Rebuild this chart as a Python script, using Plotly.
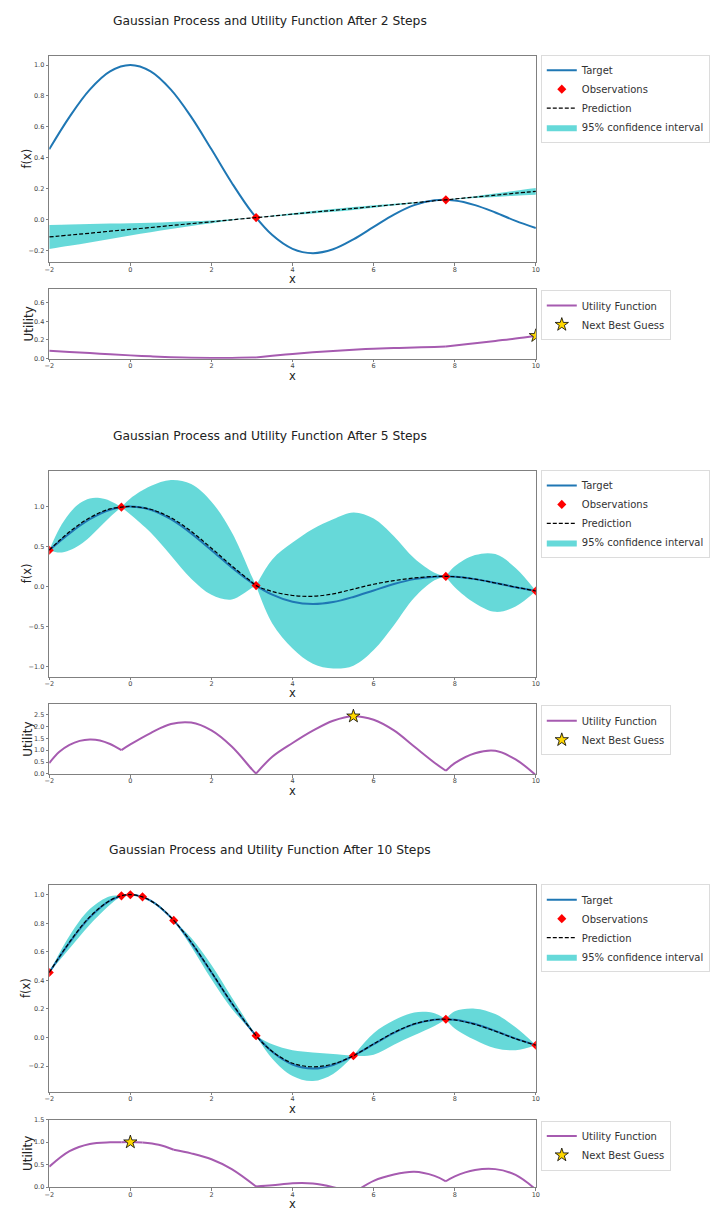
import plotly.graph_objects as go

W, H = 710, 1211
FONT = "DejaVu Sans"

TARGET_COLOR = "#1f77b4"
OBS_COLOR = "#ff0000"
BAND_COLOR = "rgba(0,191,191,0.6)"
UTIL_COLOR = "#a65bb0"
FRAME = "#808080"

# ---------------- data ----------------
x_ticks = [-2, 0, 2, 4, 6, 8, 10]

# target function samples (same curve in every panel)
target_x = [-2.0, -1.5, -1.0, -0.5, 0.0, 0.5, 1.0, 1.5, 2.0, 2.5, 3.0, 3.5, 4.0,
            4.5, 5.0, 5.5, 6.0, 6.5, 7.0, 7.5, 8.0, 8.5, 9.0, 9.5, 10.0]
target_y = [0.455, 0.665, 0.841, 0.959, 1.000, 0.959, 0.841, 0.665, 0.455, 0.239,
            0.047, -0.100, -0.189, -0.217, -0.192, -0.128, -0.047, 0.033, 0.094,
            0.125, 0.124, 0.094, 0.046, -0.008, -0.054]

# after 2 steps
p1_x = [-2.0, -1.5, -1.0, -0.5, 0.0, 0.5, 1.0, 1.5, 2.0, 2.5, 3.0, 3.1, 3.5, 4.0,
        4.5, 5.0, 5.5, 6.0, 6.5, 7.0, 7.5, 7.78, 8.0, 8.5, 9.0, 9.5, 10.0]
p1_pred = [-0.112, -0.100, -0.088, -0.075, -0.063, -0.051, -0.038, -0.026, -0.014,
           -0.001, 0.011, 0.013, 0.023, 0.036, 0.048, 0.060, 0.072, 0.085, 0.097,
           0.109, 0.122, 0.128, 0.134, 0.146, 0.158, 0.171, 0.183]
p1_ci = [0.078, 0.069, 0.060, 0.050, 0.040, 0.031, 0.023, 0.015, 0.009, 0.004,
         0.001, 0.0, 0.003, 0.006, 0.008, 0.009, 0.009, 0.008, 0.006, 0.004,
         0.001, 0.0, 0.002, 0.006, 0.011, 0.016, 0.022]
p1_util = [0.085, 0.072, 0.060, 0.047, 0.035, 0.025, 0.016, 0.010, 0.007, 0.008,
           0.012, 0.013, 0.030, 0.050, 0.068, 0.083, 0.096, 0.106, 0.113, 0.120,
           0.126, 0.130, 0.140, 0.165, 0.190, 0.215, 0.245]
p1_obs_x = [3.1, 7.78]
p1_obs_y = [0.013, 0.128]
p1_next = (10.0, 0.245)

# after 5 steps
p2_x = [-2.0, -1.75, -1.5, -1.25, -1.0, -0.75, -0.5, -0.22, 0.0, 0.5, 1.0, 1.5,
        2.0, 2.5, 3.0, 3.1, 3.5, 4.0, 4.5, 5.0, 5.5, 6.0, 6.5, 7.0, 7.5, 7.78,
        8.0, 8.5, 9.0, 9.5, 10.0]
p2_pred = [0.455, 0.575, 0.685, 0.780, 0.860, 0.925, 0.970, 0.992, 1.000, 0.965,
           0.860, 0.690, 0.480, 0.260, 0.055, 0.013, -0.060, -0.110, -0.120,
           -0.090, -0.030, 0.030, 0.075, 0.108, 0.127, 0.128, 0.124, 0.094,
           0.046, -0.006, -0.054]
p2_ci = [0.0, 0.15, 0.23, 0.26, 0.24, 0.18, 0.10, 0.0, 0.10, 0.29, 0.47, 0.59,
         0.58, 0.42, 0.07, 0.0, 0.40, 0.66, 0.84, 0.93, 0.955, 0.82, 0.555, 0.247,
         0.048, 0.0, 0.13, 0.30, 0.36, 0.24, 0.0]
p2_util = [0.455, 0.93, 1.22, 1.39, 1.45, 1.41, 1.26, 1.00, 1.24, 1.72, 2.10,
           2.16, 1.83, 1.15, 0.19, 0.013, 0.72, 1.30, 1.82, 2.24, 2.43, 2.28,
           1.83, 1.15, 0.47, 0.13, 0.45, 0.87, 0.97, 0.61, -0.054]
p2_obs_x = [-2.0, -0.22, 3.1, 7.78, 10.0]
p2_obs_y = [0.455, 0.992, 0.013, 0.128, -0.054]
p2_next = (5.5, 2.43)

# after 10 steps
p3_x = [-2.0, -1.5, -1.0, -0.5, -0.22, 0.0, 0.3, 0.7, 1.07, 1.5, 2.0, 2.5, 3.1,
        3.5, 4.0, 4.5, 5.0, 5.5, 6.0, 6.5, 7.0, 7.5, 7.78, 8.0, 8.5, 9.0, 9.5,
        10.0]
p3_pred = [0.455, 0.668, 0.845, 0.960, 0.992, 1.000, 0.985, 0.920, 0.820, 0.668,
           0.458, 0.242, 0.013, -0.098, -0.180, -0.205, -0.185, -0.128, -0.045,
           0.035, 0.095, 0.125, 0.128, 0.123, 0.092, 0.044, -0.009, -0.054]
p3_ci = [0.0, 0.045, 0.055, 0.03, 0.0, 0.0, 0.0, 0.008, 0.0, 0.03, 0.05, 0.04,
         0.0, 0.05, 0.09, 0.10, 0.07, 0.0, 0.075, 0.085, 0.08, 0.045, 0.0, 0.06,
         0.11, 0.12, 0.08, 0.0]
p3_util = [0.455, 0.80, 0.96, 0.995, 0.995, 1.000, 0.99, 0.94, 0.83, 0.75, 0.62,
           0.40, 0.013, 0.04, 0.085, 0.08, 0.0, -0.128, 0.14, 0.28, 0.34, 0.25,
           0.13, 0.24, 0.38, 0.40, 0.27, -0.054]
p3_obs_x = [-2.0, -0.22, 0.0, 0.3, 1.07, 3.1, 5.5, 7.78, 10.0]
p3_obs_y = [0.455, 0.992, 1.000, 0.985, 0.820, 0.013, -0.128, 0.128, -0.054]
p3_next = (0.0, 1.0)

panels = [
    dict(title="Gaussian Process and Utility Function After 2 Steps",
         x=p1_x, pred=p1_pred, ci=p1_ci, util=p1_util,
         obs_x=p1_obs_x, obs_y=p1_obs_y, nxt=p1_next,
         title_y=17, main=(52, 260), sub=(287, 357),
         yr=[-0.276, 1.061], yt=[-0.2, 0.0, 0.2, 0.4, 0.6, 0.8, 1.0],
         ur=[0, 0.745], ut=[0.0, 0.2, 0.4, 0.6]),
    dict(title="Gaussian Process and Utility Function After 5 Steps",
         x=p2_x, pred=p2_pred, ci=p2_ci, util=p2_util,
         obs_x=p2_obs_x, obs_y=p2_obs_y, nxt=p2_next,
         title_y=435, main=(470, 677), sub=(705, 775),
         yr=[-1.121, 1.444], yt=[-1.0, -0.5, 0.0, 0.5, 1.0],
         ur=[0, 2.93], ut=[0.0, 0.5, 1.0, 1.5, 2.0, 2.5]),
    dict(title="Gaussian Process and Utility Function After 10 Steps",
         x=p3_x, pred=p3_pred, ci=p3_ci, util=p3_util,
         obs_x=p3_obs_x, obs_y=p3_obs_y, nxt=p3_next,
         title_y=852, main=(887, 1095), sub=(1123, 1191),
         yr=[-0.38, 1.067], yt=[-0.2, 0.0, 0.2, 0.4, 0.6, 0.8, 1.0],
         ur=[0, 1.5], ut=[0.0, 0.5, 1.0, 1.5]),
]

X0, X1 = 45, 540          # plot area left/right edges in pixels
LEG_X = 545


def fy(px):
    return 1 - px / H


def segments(xs, cuts):
    """Index runs of xs between consecutive cut positions (observations)."""
    bounds = sorted(set([xs[0], xs[-1]] + [c for c in cuts if xs[0] <= c <= xs[-1]]))
    runs = []
    for a, b in zip(bounds[:-1], bounds[1:]):
        idx = [i for i, v in enumerate(xs) if a - 1e-9 <= v <= b + 1e-9]
        if len(idx) >= 2:
            runs.append(idx)
    return runs


def axis_common():
    return dict(showline=True, mirror=True, linecolor=FRAME, linewidth=1.3,
                ticks="outside", ticklen=2.5, tickwidth=1, tickcolor=FRAME,
                tickfont=dict(family=FONT, size=6.5, color="#444"),
                showgrid=False, zeroline=False, fixedrange=True)


def legend_cfg(top_px):
    return dict(x=LEG_X / W, y=fy(top_px), xanchor="left", yanchor="top",
                bgcolor="white", bordercolor="#dcdcdc", borderwidth=1,
                font=dict(family=FONT, size=10, color="#333"),
                itemwidth=30, tracegroupgap=0, traceorder="normal")


fig = go.Figure()
layout = dict(width=W, height=H, margin=dict(l=0, r=0, t=0, b=0),
              paper_bgcolor="white", plot_bgcolor="white",
              font=dict(family=FONT), annotations=[])

for k, p in enumerate(panels):
    im, iu = 2 * k + 1, 2 * k + 2
    xm, ym = ("x", "y") if im == 1 else (f"x{im}", f"y{im}")
    xu, yu = f"x{iu}", f"y{iu}"
    lm = "legend" if im == 1 else f"legend{im}"
    lu = f"legend{iu}"

    # confidence band, one piece between each pair of observations
    for n, idx in enumerate(segments(p["x"], p["obs_x"])):
        xs = [p["x"][i] for i in idx]
        lo = [p["pred"][i] - p["ci"][i] for i in idx]
        hi = [p["pred"][i] + p["ci"][i] for i in idx]
        fig.add_trace(go.Scatter(x=xs, y=lo, mode="lines",
                                 line=dict(width=0, shape="spline"),
                                 hoverinfo="skip", showlegend=False,
                                 xaxis=xm, yaxis=ym))
        fig.add_trace(go.Scatter(x=xs, y=hi, mode="lines",
                                 line=dict(width=0, shape="spline"),
                                 fill="tonexty", fillcolor=BAND_COLOR,
                                 name="95% confidence interval",
                                 showlegend=(n == 0), legend=lm, legendrank=4,
                                 xaxis=xm, yaxis=ym))

    fig.add_trace(go.Scatter(x=target_x, y=target_y, mode="lines", name="Target",
                             line=dict(color=TARGET_COLOR, width=2, shape="spline"),
                             legend=lm, legendrank=1, xaxis=xm, yaxis=ym))
    fig.add_trace(go.Scatter(x=p["obs_x"], y=p["obs_y"], mode="markers",
                             name="Observations",
                             marker=dict(symbol="diamond", size=7, color=OBS_COLOR,
                                         line=dict(width=0)),
                             legend=lm, legendrank=2, xaxis=xm, yaxis=ym))
    fig.add_trace(go.Scatter(x=p["x"], y=p["pred"], mode="lines", name="Prediction",
                             line=dict(color="black", width=1.2, dash="4px,2px",
                                       shape="spline"),
                             legend=lm, legendrank=3, xaxis=xm, yaxis=ym))

    # utility curve, broken at observations so the kinks stay sharp
    ux, uy = [], []
    for idx in segments(p["x"], p["obs_x"]):
        if ux:
            ux.append(None)
            uy.append(None)
        ux += [p["x"][i] for i in idx]
        uy += [p["util"][i] for i in idx]
    fig.add_trace(go.Scatter(x=ux, y=uy, mode="lines", name="Utility Function",
                             connectgaps=False,
                             line=dict(color=UTIL_COLOR, width=2, shape="spline"),
                             legend=lu, legendrank=1, xaxis=xu, yaxis=yu))
    fig.add_trace(go.Scatter(x=[p["nxt"][0]], y=[p["nxt"][1]], mode="markers",
                             name="Next Best Guess",
                             marker=dict(symbol="star", size=10, color="#ffd700",
                                         line=dict(color="black", width=0.8)),
                             legend=lu, legendrank=2, xaxis=xu, yaxis=yu))

    sfx_m = "" if im == 1 else str(im)
    layout[f"xaxis{sfx_m}"] = dict(domain=[X0 / W, X1 / W], range=[-2, 10],
                                   tickvals=x_ticks, anchor=ym, ticklabelstandoff=-2,
                                   **axis_common())
    layout[f"yaxis{sfx_m}"] = dict(domain=[fy(p["main"][1]), fy(p["main"][0])],
                                   range=p["yr"], tickvals=p["yt"], tickformat=".1f",
                                   anchor=xm, **axis_common())
    layout[f"xaxis{iu}"] = dict(domain=[X0 / W, X1 / W], range=[-2, 10],
                                tickvals=x_ticks, anchor=yu, ticklabelstandoff=-2,
                                **axis_common())
    layout[f"yaxis{iu}"] = dict(domain=[fy(p["sub"][1]), fy(p["sub"][0])],
                                range=p["ur"], tickvals=p["ut"], tickformat=".1f",
                                anchor=xu, **axis_common())

    layout[lm] = legend_cfg(p["main"][0] - 1)
    layout[lu] = legend_cfg(p["sub"][0] + 1)

    ann = layout["annotations"]
    ann.append(dict(text=p["title"], x=270 / W, y=fy(p["title_y"]), xref="paper",
                    yref="paper", showarrow=False, xanchor="center", yanchor="middle",
                    font=dict(family=FONT, size=12.3, color="#222")))
    ann.append(dict(text="f(x)", x=22 / W, y=fy((p["main"][0] + p["main"][1]) / 2),
                    xref="paper", yref="paper", showarrow=False, textangle=-90,
                    xanchor="center", yanchor="middle",
                    font=dict(family=FONT, size=11.5, color="#222")))
    ann.append(dict(text="x", x=(X0 + X1) / 2 / W, y=fy(p["main"][1] + 17),
                    xref="paper", yref="paper", showarrow=False,
                    xanchor="center", yanchor="middle",
                    font=dict(family=FONT, size=11.5, color="#222")))
    ann.append(dict(text="Utility", x=24 / W, y=fy((p["sub"][0] + p["sub"][1]) / 2),
                    xref="paper", yref="paper", showarrow=False, textangle=-90,
                    xanchor="center", yanchor="middle",
                    font=dict(family=FONT, size=12, color="#222")))
    ann.append(dict(text="x", x=(X0 + X1) / 2 / W, y=fy(p["sub"][1] + 17),
                    xref="paper", yref="paper", showarrow=False,
                    xanchor="center", yanchor="middle",
                    font=dict(family=FONT, size=11.5, color="#222")))

fig.update_layout(**layout)
fig.write_html("out.html")
